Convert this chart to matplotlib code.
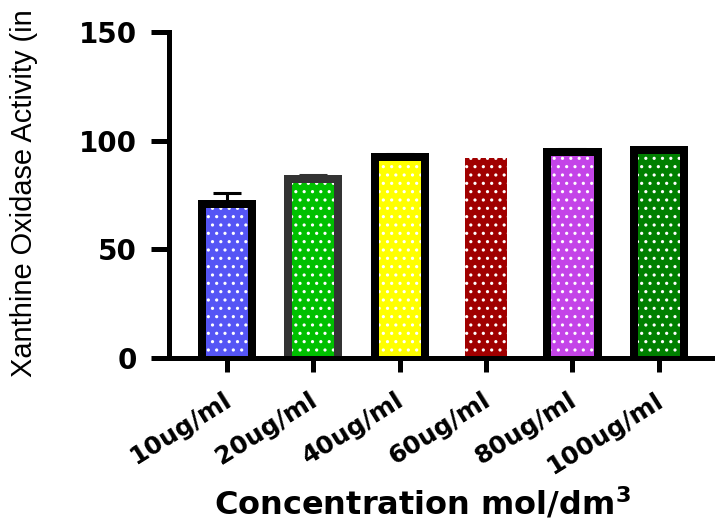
import numpy as np
import matplotlib
matplotlib.use("Agg")
import matplotlib.pyplot as plt
from matplotlib.transforms import ScaledTranslation

# data
concentrations = ['10ug/ml', '20ug/ml', '40ug/ml', '60ug/ml', '80ug/ml', '100ug/ml']
activity = [71.0, 82.4, 92.3, 93.9, 95.0, 95.5]
activity_err = [5.0, 2.0, 1.6, 0.0, 1.0, 0.8]

fill_colors = ['#5555F5', '#00C000', '#FFFF00', '#A00000', '#C444E8', '#008000']
edge_colors = ['black', '#333333', 'black', 'white', 'black', 'black']

plt.rcParams['hatch.linewidth'] = 1.1

fig = plt.figure(figsize=(7.15, 5.23), dpi=100)
ax = fig.add_axes([169 / 715, 1 - 358 / 523, 1 - 169 / 715, 326 / 523])

x = np.arange(len(concentrations))
width = 0.58
edge_lw = 8 * 72 / 100

# filled, dotted bars (hatch in white)
ax.bar(x, activity, width, color=fill_colors, edgecolor='white',
       linewidth=0, hatch='..', zorder=1)
# thick outlines on top; bottom pushed below the axis so it gets clipped
below = 3
ax.bar(x, np.array(activity) + below, width, bottom=-below, fill=False,
       edgecolor=edge_colors, linewidth=edge_lw, zorder=2)

# error bars (upper only)
for xi, v, e, ec in zip(x, activity, activity_err, edge_colors):
    if e <= 0:
        continue
    ax.errorbar(xi, v, yerr=[[0], [e]], fmt='none', ecolor=ec,
                elinewidth=2.2, capsize=10, capthick=2.2, zorder=3)

ax.set_ylim(0, 150)
ax.set_xlim(-0.67, 5.65)
ax.set_yticks([0, 50, 100, 150])
ax.set_xticks(x)

for side in ['top', 'right']:
    ax.spines[side].set_visible(False)
for side in ['left', 'bottom']:
    ax.spines[side].set_linewidth(3.6)
    ax.spines[side].set_zorder(4)
ax.tick_params(axis='y', length=13, width=3.6, pad=10)
ax.tick_params(axis='x', length=10, width=3.6, pad=19)

ax.set_xticklabels(concentrations, rotation=32, ha='right', va='center',
                   rotation_mode='anchor', fontsize=18, fontweight='bold')
shift = ScaledTranslation(2 / 100, 0, fig.dpi_scale_trans)
for lbl in ax.get_xticklabels():
    lbl.set_transform(lbl.get_transform() + shift)
for lbl in ax.get_yticklabels():
    lbl.set_fontsize(20)
    lbl.set_fontweight('heavy')

ylab = fig.text(24 / 715, 1 - 377 / 523, 'Xanthine Oxidase Activity (in',
                rotation=90, ha='center', va='bottom', fontsize=21,
                family=['Liberation Sans', 'DejaVu Sans'])
# shrink the label so it fits between the bottom anchor and the top edge
fig.canvas.draw()
ext = ylab.get_window_extent()
ylab.set_fontsize(21 * 368 / ext.height)

fig.text(422 / 715, 1 - 514 / 523, r'Concentration mol/dm$^\mathbf{3}$',
         ha='center', va='baseline', fontsize=23, fontweight='heavy')

fig.savefig('out.png', dpi=100)
